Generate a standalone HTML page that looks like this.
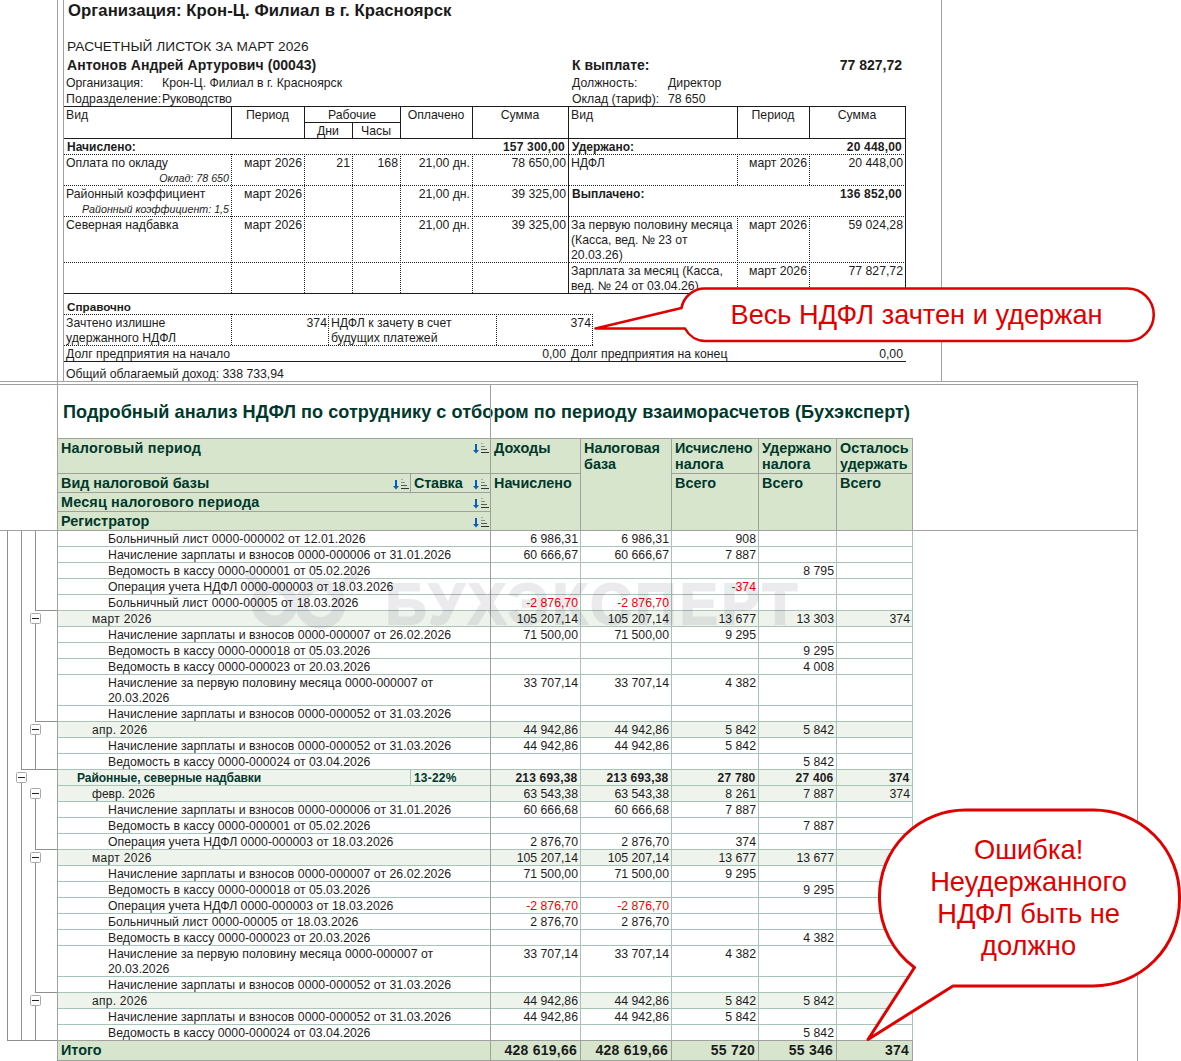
<!DOCTYPE html>
<html lang="ru"><head><meta charset="utf-8"><title>Расчетный листок и анализ НДФЛ</title><style>
html,body{margin:0;padding:0;background:#fff}
body{width:1181px;height:1061px;position:relative;overflow:hidden;font-family:"Liberation Sans",sans-serif;color:#1c1c1c}
.t{position:absolute;white-space:nowrap;margin:0;padding:0}
.l{position:absolute;display:block}
.hd{height:1px;background:repeating-linear-gradient(90deg,#222 0 1px,transparent 1px 2px)}
.vd{width:1px;background:repeating-linear-gradient(180deg,#222 0 1px,transparent 1px 2px)}
.bx{position:absolute;width:9px;height:9px;border:1px solid #a8a8a8;border-radius:1.5px;background:#fff}
.bx i{position:absolute;left:1px;top:4px;width:7px;height:1px;background:#222}
.wm{position:absolute;font-size:57px;line-height:70px;font-weight:bold;color:#2a2440;-webkit-text-stroke:2px #2a2440;opacity:.085;white-space:nowrap;letter-spacing:3.7px}
</style></head><body>
<div class="l" style="left:57px;top:0px;width:1px;height:1061px;background:#a0a0a0"></div>
<div class="l" style="left:63px;top:0px;width:1px;height:381px;background:#a0a0a0"></div>
<div class="l" style="left:941px;top:0px;width:1px;height:381px;background:#a0a0a0"></div>
<div class="l" style="left:0px;top:381px;width:1138px;height:1px;background:#a0a0a0"></div>
<div class="l" style="left:0px;top:384px;width:1138px;height:1px;background:#a0a0a0"></div>
<div class="l" style="left:1137px;top:381px;width:1px;height:680px;background:#a0a0a0"></div>
<div class="l" style="left:490px;top:384px;width:1px;height:677px;background:#a0a0a0"></div>
<div class="t" style="top:-0.50px;font-size:16.7px;line-height:22px;font-weight:bold;color:#1a1a1a;letter-spacing:0.056px;left:68px;">Организация: Крон-Ц. Филиал в г. Красноярск</div>
<div class="t" style="top:37.50px;font-size:13.7px;line-height:18px;letter-spacing:0.059px;left:67px;">РАСЧЕТНЫЙ ЛИСТОК ЗА МАРТ 2026</div>
<div class="t" style="top:55.50px;font-size:14px;line-height:19px;font-weight:bold;letter-spacing:0.059px;left:67px;">Антонов Андрей Артурович (00043)</div>
<div class="t" style="top:75.00px;font-size:12.25px;line-height:16px;left:66px;">Организация:</div>
<div class="t" style="top:75.00px;font-size:12.25px;line-height:16px;left:162px;">Крон-Ц. Филиал в г. Красноярск</div>
<div class="t" style="top:91.00px;font-size:12.25px;line-height:16px;letter-spacing:0.196px;left:66px;">Подразделение:</div>
<div class="t" style="top:91.00px;font-size:12.25px;line-height:16px;letter-spacing:-0.167px;left:162px;">Руководство</div>
<div class="t" style="top:55.50px;font-size:14px;line-height:19px;font-weight:bold;left:572px;">К выплате:</div>
<div class="t" style="top:55.50px;font-size:14px;line-height:19px;font-weight:bold;right:279px;text-align:right;">77 827,72</div>
<div class="t" style="top:75.00px;font-size:12.25px;line-height:16px;left:572px;">Должность:</div>
<div class="t" style="top:75.00px;font-size:12.25px;line-height:16px;left:668px;">Директор</div>
<div class="t" style="top:91.00px;font-size:12.25px;line-height:16px;left:572px;">Оклад (тариф):</div>
<div class="t" style="top:91.00px;font-size:12.25px;line-height:16px;left:668px;">78 650</div>
<div class="l" style="left:64px;top:106px;width:842px;height:1px;background:#1c1c1c"></div>
<div class="l" style="left:64px;top:138px;width:842px;height:1px;background:#1c1c1c"></div>
<div class="l" style="left:304px;top:122px;width:96px;height:1px;background:#1c1c1c"></div>
<div class="l" style="left:231px;top:106px;width:1px;height:32px;background:#1c1c1c"></div>
<div class="l" style="left:304px;top:106px;width:1px;height:32px;background:#1c1c1c"></div>
<div class="l" style="left:400px;top:106px;width:1px;height:32px;background:#1c1c1c"></div>
<div class="l" style="left:472px;top:106px;width:1px;height:32px;background:#1c1c1c"></div>
<div class="l" style="left:737px;top:106px;width:1px;height:32px;background:#1c1c1c"></div>
<div class="l" style="left:809px;top:106px;width:1px;height:32px;background:#1c1c1c"></div>
<div class="l" style="left:352px;top:122px;width:1px;height:16px;background:#1c1c1c"></div>
<div class="l" style="left:568px;top:106px;width:1px;height:187px;background:#1c1c1c"></div>
<div class="l" style="left:905px;top:106px;width:1px;height:187px;background:#1c1c1c"></div>
<div class="l" style="left:64px;top:293px;width:842px;height:1px;background:#1c1c1c"></div>
<div class="l" style="left:64px;top:361px;width:842px;height:1px;background:#1c1c1c"></div>
<div class="l hd" style="left:64px;top:154px;width:504px"></div>
<div class="l hd" style="left:569px;top:154px;width:336px"></div>
<div class="l hd" style="left:64px;top:185px;width:504px"></div>
<div class="l hd" style="left:569px;top:185px;width:336px"></div>
<div class="l hd" style="left:64px;top:216px;width:504px"></div>
<div class="l hd" style="left:569px;top:216px;width:336px"></div>
<div class="l hd" style="left:64px;top:262px;width:504px"></div>
<div class="l hd" style="left:569px;top:262px;width:336px"></div>
<div class="l vd" style="left:231px;top:154px;height:139px"></div>
<div class="l vd" style="left:304px;top:154px;height:139px"></div>
<div class="l vd" style="left:352px;top:154px;height:139px"></div>
<div class="l vd" style="left:400px;top:154px;height:139px"></div>
<div class="l vd" style="left:472px;top:154px;height:139px"></div>
<div class="l vd" style="left:737px;top:154px;height:31px"></div>
<div class="l vd" style="left:737px;top:216px;height:77px"></div>
<div class="l vd" style="left:809px;top:154px;height:31px"></div>
<div class="l vd" style="left:809px;top:216px;height:77px"></div>
<div class="l hd" style="left:64px;top:314px;width:529px"></div>
<div class="l hd" style="left:64px;top:345px;width:529px"></div>
<div class="l vd" style="left:231px;top:314px;height:32px"></div>
<div class="l vd" style="left:328px;top:314px;height:32px"></div>
<div class="l vd" style="left:496px;top:314px;height:32px"></div>
<div class="l vd" style="left:592px;top:314px;height:32px"></div>
<div class="t" style="top:107.00px;font-size:12.25px;line-height:16px;left:66px;">Вид</div>
<div class="t" style="top:107.00px;font-size:12.25px;line-height:16px;left:-32.5px;width:600px;text-align:center;">Период</div>
<div class="t" style="top:107.00px;font-size:12.25px;line-height:16px;left:52px;width:600px;text-align:center;">Рабочие</div>
<div class="t" style="top:123.00px;font-size:12.25px;line-height:16px;left:28px;width:600px;text-align:center;">Дни</div>
<div class="t" style="top:123.00px;font-size:12.25px;line-height:16px;left:76px;width:600px;text-align:center;">Часы</div>
<div class="t" style="top:107.00px;font-size:12.25px;line-height:16px;left:136px;width:600px;text-align:center;">Оплачено</div>
<div class="t" style="top:107.00px;font-size:12.25px;line-height:16px;left:220px;width:600px;text-align:center;">Сумма</div>
<div class="t" style="top:107.00px;font-size:12.25px;line-height:16px;left:571px;">Вид</div>
<div class="t" style="top:107.00px;font-size:12.25px;line-height:16px;left:473px;width:600px;text-align:center;">Период</div>
<div class="t" style="top:107.00px;font-size:12.25px;line-height:16px;left:557px;width:600px;text-align:center;">Сумма</div>
<div class="t" style="top:139.00px;font-size:12px;line-height:16px;font-weight:bold;left:67px;">Начислено:</div>
<div class="t" style="top:139.00px;font-size:12px;line-height:16px;font-weight:bold;letter-spacing:0.2px;right:616px;text-align:right;">157 300,00</div>
<div class="t" style="top:155.00px;font-size:12.25px;line-height:16px;left:66px;">Оплата по окладу</div>
<div class="t" style="top:171.00px;font-size:10.7px;line-height:14px;font-style:italic;right:952px;text-align:right;">Оклад: 78 650</div>
<div class="t" style="top:155.00px;font-size:12.25px;line-height:16px;right:879px;text-align:right;">март 2026</div>
<div class="t" style="top:155.00px;font-size:12.25px;line-height:16px;right:831px;text-align:right;">21</div>
<div class="t" style="top:155.00px;font-size:12.25px;line-height:16px;right:783px;text-align:right;">168</div>
<div class="t" style="top:155.00px;font-size:12.25px;line-height:16px;right:711px;text-align:right;">21,00 дн.</div>
<div class="t" style="top:155.00px;font-size:12.25px;line-height:16px;right:615px;text-align:right;">78 650,00</div>
<div class="t" style="top:186.00px;font-size:12.25px;line-height:16px;left:66px;">Районный коэффициент</div>
<div class="t" style="top:202.00px;font-size:10.7px;line-height:14px;font-style:italic;right:952px;text-align:right;">Районный коэффициент: 1,5</div>
<div class="t" style="top:186.00px;font-size:12.25px;line-height:16px;right:879px;text-align:right;">март 2026</div>
<div class="t" style="top:186.00px;font-size:12.25px;line-height:16px;right:711px;text-align:right;">21,00 дн.</div>
<div class="t" style="top:186.00px;font-size:12.25px;line-height:16px;right:615px;text-align:right;">39 325,00</div>
<div class="t" style="top:217.00px;font-size:12.25px;line-height:16px;left:66px;">Северная надбавка</div>
<div class="t" style="top:217.00px;font-size:12.25px;line-height:16px;right:879px;text-align:right;">март 2026</div>
<div class="t" style="top:217.00px;font-size:12.25px;line-height:16px;right:711px;text-align:right;">21,00 дн.</div>
<div class="t" style="top:217.00px;font-size:12.25px;line-height:16px;right:615px;text-align:right;">39 325,00</div>
<div class="t" style="top:139.00px;font-size:12px;line-height:16px;font-weight:bold;left:572px;">Удержано:</div>
<div class="t" style="top:139.00px;font-size:12px;line-height:16px;font-weight:bold;letter-spacing:0.2px;right:279px;text-align:right;">20 448,00</div>
<div class="t" style="top:155.00px;font-size:12.25px;line-height:16px;left:571px;">НДФЛ</div>
<div class="t" style="top:155.00px;font-size:12.25px;line-height:16px;right:374px;text-align:right;">март 2026</div>
<div class="t" style="top:155.00px;font-size:12.25px;line-height:16px;right:278px;text-align:right;">20 448,00</div>
<div class="t" style="top:186.00px;font-size:12px;line-height:16px;font-weight:bold;left:572px;">Выплачено:</div>
<div class="t" style="top:186.00px;font-size:12px;line-height:16px;font-weight:bold;letter-spacing:0.2px;right:279px;text-align:right;">136 852,00</div>
<div class="t" style="top:217.00px;font-size:12.25px;line-height:16px;left:571px;">За первую половину месяца</div>
<div class="t" style="top:232.00px;font-size:12.25px;line-height:16px;left:571px;">(Касса, вед. № 23 от</div>
<div class="t" style="top:247.00px;font-size:12.25px;line-height:16px;left:571px;">20.03.26)</div>
<div class="t" style="top:217.00px;font-size:12.25px;line-height:16px;right:374px;text-align:right;">март 2026</div>
<div class="t" style="top:217.00px;font-size:12.25px;line-height:16px;right:278px;text-align:right;">59 024,28</div>
<div class="t" style="top:263.00px;font-size:12.25px;line-height:16px;left:571px;">Зарплата за месяц (Касса,</div>
<div class="t" style="top:278.00px;font-size:12.25px;line-height:16px;left:571px;">вед. № 24 от 03.04.26)</div>
<div class="t" style="top:263.00px;font-size:12.25px;line-height:16px;right:374px;text-align:right;">март 2026</div>
<div class="t" style="top:263.00px;font-size:12.25px;line-height:16px;right:278px;text-align:right;">77 827,72</div>
<div class="t" style="top:298.50px;font-size:11.7px;line-height:16px;font-weight:bold;left:67px;">Справочно</div>
<div class="t" style="top:315.00px;font-size:12.25px;line-height:16px;left:66px;">Зачтено излишне</div>
<div class="t" style="top:330.00px;font-size:12.25px;line-height:16px;left:66px;">удержанного НДФЛ</div>
<div class="t" style="top:315.00px;font-size:12.25px;line-height:16px;right:854px;text-align:right;">374</div>
<div class="t" style="top:315.00px;font-size:12.25px;line-height:16px;left:331px;">НДФЛ к зачету в счет</div>
<div class="t" style="top:330.00px;font-size:12.25px;line-height:16px;left:331px;">будущих платежей</div>
<div class="t" style="top:315.00px;font-size:12.25px;line-height:16px;right:590px;text-align:right;">374</div>
<div class="t" style="top:346.00px;font-size:12.25px;line-height:16px;left:66px;">Долг предприятия на начало</div>
<div class="t" style="top:346.00px;font-size:12.25px;line-height:16px;right:615px;text-align:right;">0,00</div>
<div class="t" style="top:346.00px;font-size:12.25px;line-height:16px;left:571px;">Долг предприятия на конец</div>
<div class="t" style="top:346.00px;font-size:12.25px;line-height:16px;right:278px;text-align:right;">0,00</div>
<div class="t" style="top:366.00px;font-size:12.25px;line-height:16px;left:66px;">Общий облагаемый доход: 338 733,94</div>
<div class="t" style="top:400.00px;font-size:18.1px;line-height:24px;font-weight:bold;color:#00382c;letter-spacing:0.047px;left:63px;">Подробный анализ НДФЛ по сотруднику с отбором по периоду взаиморасчетов (Бухэксперт)</div>
<div class="l" style="left:58px;top:438px;width:855px;height:93px;background:#d6e5cc"></div>
<div class="l" style="left:57px;top:438px;width:856px;height:1px;background:#a0a0a0"></div>
<div class="l" style="left:0px;top:530px;width:1138px;height:1px;background:#a0a0a0"></div>
<div class="l" style="left:57px;top:473px;width:523px;height:1px;background:#a0a0a0"></div>
<div class="l" style="left:671px;top:473px;width:242px;height:1px;background:#a0a0a0"></div>
<div class="l" style="left:57px;top:492px;width:433px;height:1px;background:#a0a0a0"></div>
<div class="l" style="left:57px;top:511px;width:433px;height:1px;background:#a0a0a0"></div>
<div class="l" style="left:410px;top:473px;width:1px;height:19px;background:#a0a0a0"></div>
<div class="l" style="left:580px;top:438px;width:1px;height:92px;background:#a0a0a0"></div>
<div class="l" style="left:671px;top:438px;width:1px;height:92px;background:#a0a0a0"></div>
<div class="l" style="left:758px;top:438px;width:1px;height:92px;background:#a0a0a0"></div>
<div class="l" style="left:836px;top:438px;width:1px;height:92px;background:#a0a0a0"></div>
<div class="l" style="left:912px;top:438px;width:1px;height:92px;background:#a0a0a0"></div>
<div class="t" style="top:439.00px;font-size:14.4px;line-height:18px;font-weight:bold;color:#00382c;letter-spacing:0.211px;left:61px;">Налоговый период</div>
<div class="t" style="top:474.00px;font-size:14.4px;line-height:18px;font-weight:bold;color:#00382c;left:61px;">Вид налоговой базы</div>
<div class="t" style="top:474.00px;font-size:14.4px;line-height:18px;font-weight:bold;color:#00382c;letter-spacing:-0.172px;left:414px;">Ставка</div>
<div class="t" style="top:493.00px;font-size:14.4px;line-height:18px;font-weight:bold;color:#00382c;letter-spacing:0.176px;left:61px;">Месяц налогового периода</div>
<div class="t" style="top:512.00px;font-size:14.4px;line-height:18px;font-weight:bold;color:#00382c;left:61px;">Регистратор</div>
<div class="t" style="top:439.00px;font-size:14.4px;line-height:18px;font-weight:bold;color:#00382c;left:494px;">Доходы</div>
<div class="t" style="top:474.00px;font-size:14.4px;line-height:18px;font-weight:bold;color:#00382c;left:494px;">Начислено</div>
<div class="t" style="top:439.00px;font-size:14.4px;line-height:18px;font-weight:bold;color:#00382c;left:584px;">Налоговая</div>
<div class="t" style="top:455.00px;font-size:14.4px;line-height:18px;font-weight:bold;color:#00382c;left:584px;">база</div>
<div class="t" style="top:439.00px;font-size:14.4px;line-height:18px;font-weight:bold;color:#00382c;left:675px;">Исчислено</div>
<div class="t" style="top:455.00px;font-size:14.4px;line-height:18px;font-weight:bold;color:#00382c;left:675px;">налога</div>
<div class="t" style="top:439.00px;font-size:14.4px;line-height:18px;font-weight:bold;color:#00382c;left:762px;">Удержано</div>
<div class="t" style="top:455.00px;font-size:14.4px;line-height:18px;font-weight:bold;color:#00382c;left:762px;">налога</div>
<div class="t" style="top:439.00px;font-size:14.4px;line-height:18px;font-weight:bold;color:#00382c;left:840px;">Осталось</div>
<div class="t" style="top:455.00px;font-size:14.4px;line-height:18px;font-weight:bold;color:#00382c;left:840px;">удержать</div>
<div class="t" style="top:474.00px;font-size:14.4px;line-height:18px;font-weight:bold;color:#00382c;left:675px;">Всего</div>
<div class="t" style="top:474.00px;font-size:14.4px;line-height:18px;font-weight:bold;color:#00382c;left:762px;">Всего</div>
<div class="t" style="top:474.00px;font-size:14.4px;line-height:18px;font-weight:bold;color:#00382c;left:840px;">Всего</div>
<svg class="l" style="left:473px;top:443px" width="17" height="11" viewBox="0 0 17 11"><path d="M2 1h2v6h2l-3 3.4l-3-3.4h2z" fill="#0a5cb8"/><rect x="8" y="0" width="2" height="1" fill="#aaa"/><rect x="8" y="3" width="4" height="1" fill="#888"/><rect x="8" y="6" width="6" height="1" fill="#555"/><rect x="8" y="9" width="8" height="1" fill="#333"/></svg>
<svg class="l" style="left:473px;top:479px" width="17" height="11" viewBox="0 0 17 11"><path d="M2 1h2v6h2l-3 3.4l-3-3.4h2z" fill="#0a5cb8"/><rect x="8" y="0" width="2" height="1" fill="#aaa"/><rect x="8" y="3" width="4" height="1" fill="#888"/><rect x="8" y="6" width="6" height="1" fill="#555"/><rect x="8" y="9" width="8" height="1" fill="#333"/></svg>
<svg class="l" style="left:393px;top:479px" width="17" height="11" viewBox="0 0 17 11"><path d="M2 1h2v6h2l-3 3.4l-3-3.4h2z" fill="#0a5cb8"/><rect x="8" y="0" width="2" height="1" fill="#aaa"/><rect x="8" y="3" width="4" height="1" fill="#888"/><rect x="8" y="6" width="6" height="1" fill="#555"/><rect x="8" y="9" width="8" height="1" fill="#333"/></svg>
<svg class="l" style="left:473px;top:498px" width="17" height="11" viewBox="0 0 17 11"><path d="M2 1h2v6h2l-3 3.4l-3-3.4h2z" fill="#0a5cb8"/><rect x="8" y="0" width="2" height="1" fill="#aaa"/><rect x="8" y="3" width="4" height="1" fill="#888"/><rect x="8" y="6" width="6" height="1" fill="#555"/><rect x="8" y="9" width="8" height="1" fill="#333"/></svg>
<svg class="l" style="left:473px;top:517px" width="17" height="11" viewBox="0 0 17 11"><path d="M2 1h2v6h2l-3 3.4l-3-3.4h2z" fill="#0a5cb8"/><rect x="8" y="0" width="2" height="1" fill="#aaa"/><rect x="8" y="3" width="4" height="1" fill="#888"/><rect x="8" y="6" width="6" height="1" fill="#555"/><rect x="8" y="9" width="8" height="1" fill="#333"/></svg>
<div class="l" style="left:58px;top:611px;width:854px;height:15px;background:#eef3ec"></div>
<div class="l" style="left:58px;top:722px;width:854px;height:15px;background:#eef3ec"></div>
<div class="l" style="left:58px;top:770px;width:854px;height:15px;background:#eef3ec"></div>
<div class="l" style="left:58px;top:786px;width:854px;height:15px;background:#eef3ec"></div>
<div class="l" style="left:58px;top:850px;width:854px;height:15px;background:#eef3ec"></div>
<div class="l" style="left:58px;top:993px;width:854px;height:15px;background:#eef3ec"></div>
<div class="l" style="left:58px;top:1041px;width:854px;height:19px;background:#d6e5cc"></div>
<div class="l" style="left:58px;top:546px;width:855px;height:1px;background:#a8c3b8"></div>
<div class="l" style="left:58px;top:562px;width:855px;height:1px;background:#a8c3b8"></div>
<div class="l" style="left:58px;top:578px;width:855px;height:1px;background:#a8c3b8"></div>
<div class="l" style="left:58px;top:594px;width:855px;height:1px;background:#a8c3b8"></div>
<div class="l" style="left:58px;top:610px;width:855px;height:1px;background:#a8c3b8"></div>
<div class="l" style="left:58px;top:626px;width:855px;height:1px;background:#a8c3b8"></div>
<div class="l" style="left:58px;top:642px;width:855px;height:1px;background:#a8c3b8"></div>
<div class="l" style="left:58px;top:658px;width:855px;height:1px;background:#a8c3b8"></div>
<div class="l" style="left:58px;top:674px;width:855px;height:1px;background:#a8c3b8"></div>
<div class="l" style="left:58px;top:705px;width:855px;height:1px;background:#a8c3b8"></div>
<div class="l" style="left:58px;top:721px;width:855px;height:1px;background:#a8c3b8"></div>
<div class="l" style="left:58px;top:737px;width:855px;height:1px;background:#a8c3b8"></div>
<div class="l" style="left:58px;top:753px;width:855px;height:1px;background:#a8c3b8"></div>
<div class="l" style="left:58px;top:769px;width:855px;height:1px;background:#a8c3b8"></div>
<div class="l" style="left:58px;top:785px;width:855px;height:1px;background:#a8c3b8"></div>
<div class="l" style="left:58px;top:801px;width:855px;height:1px;background:#a8c3b8"></div>
<div class="l" style="left:58px;top:817px;width:855px;height:1px;background:#a8c3b8"></div>
<div class="l" style="left:58px;top:833px;width:855px;height:1px;background:#a8c3b8"></div>
<div class="l" style="left:58px;top:849px;width:855px;height:1px;background:#a8c3b8"></div>
<div class="l" style="left:58px;top:865px;width:855px;height:1px;background:#a8c3b8"></div>
<div class="l" style="left:58px;top:881px;width:855px;height:1px;background:#a8c3b8"></div>
<div class="l" style="left:58px;top:897px;width:855px;height:1px;background:#a8c3b8"></div>
<div class="l" style="left:58px;top:913px;width:855px;height:1px;background:#a8c3b8"></div>
<div class="l" style="left:58px;top:929px;width:855px;height:1px;background:#a8c3b8"></div>
<div class="l" style="left:58px;top:945px;width:855px;height:1px;background:#a8c3b8"></div>
<div class="l" style="left:58px;top:976px;width:855px;height:1px;background:#a8c3b8"></div>
<div class="l" style="left:58px;top:992px;width:855px;height:1px;background:#a8c3b8"></div>
<div class="l" style="left:58px;top:1008px;width:855px;height:1px;background:#a8c3b8"></div>
<div class="l" style="left:58px;top:1024px;width:855px;height:1px;background:#a8c3b8"></div>
<div class="l" style="left:580px;top:531px;width:1px;height:509px;background:#a8c3b8"></div>
<div class="l" style="left:671px;top:531px;width:1px;height:509px;background:#a8c3b8"></div>
<div class="l" style="left:758px;top:531px;width:1px;height:509px;background:#a8c3b8"></div>
<div class="l" style="left:836px;top:531px;width:1px;height:509px;background:#a8c3b8"></div>
<div class="l" style="left:912px;top:531px;width:1px;height:509px;background:#a8c3b8"></div>
<div class="l" style="left:410px;top:770px;width:1px;height:15px;background:#a8c3b8"></div>
<div class="l" style="left:57px;top:1040px;width:856px;height:1px;background:#a0a0a0"></div>
<div class="l" style="left:57px;top:1060px;width:856px;height:1px;background:#a0a0a0"></div>
<div class="l" style="left:580px;top:1040px;width:1px;height:21px;background:#a0a0a0"></div>
<div class="l" style="left:671px;top:1040px;width:1px;height:21px;background:#a0a0a0"></div>
<div class="l" style="left:758px;top:1040px;width:1px;height:21px;background:#a0a0a0"></div>
<div class="l" style="left:836px;top:1040px;width:1px;height:21px;background:#a0a0a0"></div>
<div class="l" style="left:912px;top:1040px;width:1px;height:21px;background:#a0a0a0"></div>
<div class="l" style="left:57px;top:384px;width:1px;height:677px;background:#a0a0a0"></div>
<div class="l" style="left:490px;top:384px;width:1px;height:677px;background:#a0a0a0"></div>
<div class="t" style="top:531.00px;font-size:12.25px;line-height:16px;letter-spacing:0.05px;left:108px;">Больничный лист 0000-000002 от 12.01.2026</div>
<div class="t" style="top:531.00px;font-size:12.25px;line-height:16px;right:603px;text-align:right;">6 986,31</div>
<div class="t" style="top:531.00px;font-size:12.25px;line-height:16px;right:512px;text-align:right;">6 986,31</div>
<div class="t" style="top:531.00px;font-size:12.25px;line-height:16px;right:425px;text-align:right;">908</div>
<div class="t" style="top:547.00px;font-size:12.25px;line-height:16px;letter-spacing:0.036px;left:108px;">Начисление зарплаты и взносов 0000-000006 от 31.01.2026</div>
<div class="t" style="top:547.00px;font-size:12.25px;line-height:16px;right:603px;text-align:right;">60 666,67</div>
<div class="t" style="top:547.00px;font-size:12.25px;line-height:16px;right:512px;text-align:right;">60 666,67</div>
<div class="t" style="top:547.00px;font-size:12.25px;line-height:16px;right:425px;text-align:right;">7 887</div>
<div class="t" style="top:563.00px;font-size:12.25px;line-height:16px;letter-spacing:0.009px;left:108px;">Ведомость в кассу 0000-000001 от 05.02.2026</div>
<div class="t" style="top:563.00px;font-size:12.25px;line-height:16px;right:347px;text-align:right;">8 795</div>
<div class="t" style="top:579.00px;font-size:12.25px;line-height:16px;letter-spacing:0.014px;left:108px;">Операция учета НДФЛ 0000-000003 от 18.03.2026</div>
<div class="t" style="top:579.00px;font-size:12.25px;line-height:16px;color:#f00000;right:425px;text-align:right;">-374</div>
<div class="t" style="top:595.00px;font-size:12.25px;line-height:16px;letter-spacing:0.041px;left:108px;">Больничный лист 0000-00005 от 18.03.2026</div>
<div class="t" style="top:595.00px;font-size:12.25px;line-height:16px;color:#f00000;right:603px;text-align:right;">-2 876,70</div>
<div class="t" style="top:595.00px;font-size:12.25px;line-height:16px;color:#f00000;right:512px;text-align:right;">-2 876,70</div>
<div class="t" style="top:611.00px;font-size:12px;line-height:16px;letter-spacing:0.33px;left:92px;">март 2026</div>
<div class="t" style="top:611.00px;font-size:12.25px;line-height:16px;right:603px;text-align:right;">105 207,14</div>
<div class="t" style="top:611.00px;font-size:12.25px;line-height:16px;right:512px;text-align:right;">105 207,14</div>
<div class="t" style="top:611.00px;font-size:12.25px;line-height:16px;right:425px;text-align:right;">13 677</div>
<div class="t" style="top:611.00px;font-size:12.25px;line-height:16px;right:347px;text-align:right;">13 303</div>
<div class="t" style="top:611.00px;font-size:12.25px;line-height:16px;right:271px;text-align:right;">374</div>
<div class="t" style="top:627.00px;font-size:12.25px;line-height:16px;letter-spacing:0.036px;left:108px;">Начисление зарплаты и взносов 0000-000007 от 26.02.2026</div>
<div class="t" style="top:627.00px;font-size:12.25px;line-height:16px;right:603px;text-align:right;">71 500,00</div>
<div class="t" style="top:627.00px;font-size:12.25px;line-height:16px;right:512px;text-align:right;">71 500,00</div>
<div class="t" style="top:627.00px;font-size:12.25px;line-height:16px;right:425px;text-align:right;">9 295</div>
<div class="t" style="top:643.00px;font-size:12.25px;line-height:16px;letter-spacing:0.009px;left:108px;">Ведомость в кассу 0000-000018 от 05.03.2026</div>
<div class="t" style="top:643.00px;font-size:12.25px;line-height:16px;right:347px;text-align:right;">9 295</div>
<div class="t" style="top:659.00px;font-size:12.25px;line-height:16px;letter-spacing:0.009px;left:108px;">Ведомость в кассу 0000-000023 от 20.03.2026</div>
<div class="t" style="top:659.00px;font-size:12.25px;line-height:16px;right:347px;text-align:right;">4 008</div>
<div class="t" style="top:675.00px;font-size:12.25px;line-height:16px;letter-spacing:0.033px;left:108px;">Начисление за первую половину месяца 0000-000007 от</div>
<div class="t" style="top:690.00px;font-size:12.25px;line-height:16px;left:108px;">20.03.2026</div>
<div class="t" style="top:675.00px;font-size:12.25px;line-height:16px;right:603px;text-align:right;">33 707,14</div>
<div class="t" style="top:675.00px;font-size:12.25px;line-height:16px;right:512px;text-align:right;">33 707,14</div>
<div class="t" style="top:675.00px;font-size:12.25px;line-height:16px;right:425px;text-align:right;">4 382</div>
<div class="t" style="top:706.00px;font-size:12.25px;line-height:16px;letter-spacing:0.036px;left:108px;">Начисление зарплаты и взносов 0000-000052 от 31.03.2026</div>
<div class="t" style="top:722.00px;font-size:12px;line-height:16px;letter-spacing:0.26px;left:92px;">апр. 2026</div>
<div class="t" style="top:722.00px;font-size:12.25px;line-height:16px;right:603px;text-align:right;">44 942,86</div>
<div class="t" style="top:722.00px;font-size:12.25px;line-height:16px;right:512px;text-align:right;">44 942,86</div>
<div class="t" style="top:722.00px;font-size:12.25px;line-height:16px;right:425px;text-align:right;">5 842</div>
<div class="t" style="top:722.00px;font-size:12.25px;line-height:16px;right:347px;text-align:right;">5 842</div>
<div class="t" style="top:738.00px;font-size:12.25px;line-height:16px;letter-spacing:0.036px;left:108px;">Начисление зарплаты и взносов 0000-000052 от 31.03.2026</div>
<div class="t" style="top:738.00px;font-size:12.25px;line-height:16px;right:603px;text-align:right;">44 942,86</div>
<div class="t" style="top:738.00px;font-size:12.25px;line-height:16px;right:512px;text-align:right;">44 942,86</div>
<div class="t" style="top:738.00px;font-size:12.25px;line-height:16px;right:425px;text-align:right;">5 842</div>
<div class="t" style="top:754.00px;font-size:12.25px;line-height:16px;letter-spacing:0.009px;left:108px;">Ведомость в кассу 0000-000024 от 03.04.2026</div>
<div class="t" style="top:754.00px;font-size:12.25px;line-height:16px;right:347px;text-align:right;">5 842</div>
<div class="t" style="top:770.00px;font-size:12px;line-height:16px;font-weight:bold;color:#00382c;letter-spacing:-0.061px;left:77px;">Районные, северные надбавки</div>
<div class="t" style="top:770.00px;font-size:12px;line-height:16px;font-weight:bold;color:#00382c;letter-spacing:0.2px;left:414px;">13-22%</div>
<div class="t" style="top:770.00px;font-size:12px;line-height:16px;font-weight:bold;letter-spacing:0.2px;right:603.5px;text-align:right;">213 693,38</div>
<div class="t" style="top:770.00px;font-size:12px;line-height:16px;font-weight:bold;letter-spacing:0.2px;right:512.5px;text-align:right;">213 693,38</div>
<div class="t" style="top:770.00px;font-size:12px;line-height:16px;font-weight:bold;letter-spacing:0.2px;right:425.5px;text-align:right;">27 780</div>
<div class="t" style="top:770.00px;font-size:12px;line-height:16px;font-weight:bold;letter-spacing:0.2px;right:347.5px;text-align:right;">27 406</div>
<div class="t" style="top:770.00px;font-size:12px;line-height:16px;font-weight:bold;letter-spacing:0.2px;right:271.5px;text-align:right;">374</div>
<div class="t" style="top:786.00px;font-size:12px;line-height:16px;letter-spacing:0.003px;left:92px;">февр. 2026</div>
<div class="t" style="top:786.00px;font-size:12.25px;line-height:16px;right:603px;text-align:right;">63 543,38</div>
<div class="t" style="top:786.00px;font-size:12.25px;line-height:16px;right:512px;text-align:right;">63 543,38</div>
<div class="t" style="top:786.00px;font-size:12.25px;line-height:16px;right:425px;text-align:right;">8 261</div>
<div class="t" style="top:786.00px;font-size:12.25px;line-height:16px;right:347px;text-align:right;">7 887</div>
<div class="t" style="top:786.00px;font-size:12.25px;line-height:16px;right:271px;text-align:right;">374</div>
<div class="t" style="top:802.00px;font-size:12.25px;line-height:16px;letter-spacing:0.036px;left:108px;">Начисление зарплаты и взносов 0000-000006 от 31.01.2026</div>
<div class="t" style="top:802.00px;font-size:12.25px;line-height:16px;right:603px;text-align:right;">60 666,68</div>
<div class="t" style="top:802.00px;font-size:12.25px;line-height:16px;right:512px;text-align:right;">60 666,68</div>
<div class="t" style="top:802.00px;font-size:12.25px;line-height:16px;right:425px;text-align:right;">7 887</div>
<div class="t" style="top:818.00px;font-size:12.25px;line-height:16px;letter-spacing:0.009px;left:108px;">Ведомость в кассу 0000-000001 от 05.02.2026</div>
<div class="t" style="top:818.00px;font-size:12.25px;line-height:16px;right:347px;text-align:right;">7 887</div>
<div class="t" style="top:834.00px;font-size:12.25px;line-height:16px;letter-spacing:0.014px;left:108px;">Операция учета НДФЛ 0000-000003 от 18.03.2026</div>
<div class="t" style="top:834.00px;font-size:12.25px;line-height:16px;right:603px;text-align:right;">2 876,70</div>
<div class="t" style="top:834.00px;font-size:12.25px;line-height:16px;right:512px;text-align:right;">2 876,70</div>
<div class="t" style="top:834.00px;font-size:12.25px;line-height:16px;right:425px;text-align:right;">374</div>
<div class="t" style="top:850.00px;font-size:12px;line-height:16px;letter-spacing:0.33px;left:92px;">март 2026</div>
<div class="t" style="top:850.00px;font-size:12.25px;line-height:16px;right:603px;text-align:right;">105 207,14</div>
<div class="t" style="top:850.00px;font-size:12.25px;line-height:16px;right:512px;text-align:right;">105 207,14</div>
<div class="t" style="top:850.00px;font-size:12.25px;line-height:16px;right:425px;text-align:right;">13 677</div>
<div class="t" style="top:850.00px;font-size:12.25px;line-height:16px;right:347px;text-align:right;">13 677</div>
<div class="t" style="top:866.00px;font-size:12.25px;line-height:16px;letter-spacing:0.036px;left:108px;">Начисление зарплаты и взносов 0000-000007 от 26.02.2026</div>
<div class="t" style="top:866.00px;font-size:12.25px;line-height:16px;right:603px;text-align:right;">71 500,00</div>
<div class="t" style="top:866.00px;font-size:12.25px;line-height:16px;right:512px;text-align:right;">71 500,00</div>
<div class="t" style="top:866.00px;font-size:12.25px;line-height:16px;right:425px;text-align:right;">9 295</div>
<div class="t" style="top:882.00px;font-size:12.25px;line-height:16px;letter-spacing:0.009px;left:108px;">Ведомость в кассу 0000-000018 от 05.03.2026</div>
<div class="t" style="top:882.00px;font-size:12.25px;line-height:16px;right:347px;text-align:right;">9 295</div>
<div class="t" style="top:898.00px;font-size:12.25px;line-height:16px;letter-spacing:0.014px;left:108px;">Операция учета НДФЛ 0000-000003 от 18.03.2026</div>
<div class="t" style="top:898.00px;font-size:12.25px;line-height:16px;color:#f00000;right:603px;text-align:right;">-2 876,70</div>
<div class="t" style="top:898.00px;font-size:12.25px;line-height:16px;color:#f00000;right:512px;text-align:right;">-2 876,70</div>
<div class="t" style="top:914.00px;font-size:12.25px;line-height:16px;letter-spacing:0.041px;left:108px;">Больничный лист 0000-00005 от 18.03.2026</div>
<div class="t" style="top:914.00px;font-size:12.25px;line-height:16px;right:603px;text-align:right;">2 876,70</div>
<div class="t" style="top:914.00px;font-size:12.25px;line-height:16px;right:512px;text-align:right;">2 876,70</div>
<div class="t" style="top:930.00px;font-size:12.25px;line-height:16px;letter-spacing:0.009px;left:108px;">Ведомость в кассу 0000-000023 от 20.03.2026</div>
<div class="t" style="top:930.00px;font-size:12.25px;line-height:16px;right:347px;text-align:right;">4 382</div>
<div class="t" style="top:946.00px;font-size:12.25px;line-height:16px;letter-spacing:0.033px;left:108px;">Начисление за первую половину месяца 0000-000007 от</div>
<div class="t" style="top:961.00px;font-size:12.25px;line-height:16px;left:108px;">20.03.2026</div>
<div class="t" style="top:946.00px;font-size:12.25px;line-height:16px;right:603px;text-align:right;">33 707,14</div>
<div class="t" style="top:946.00px;font-size:12.25px;line-height:16px;right:512px;text-align:right;">33 707,14</div>
<div class="t" style="top:946.00px;font-size:12.25px;line-height:16px;right:425px;text-align:right;">4 382</div>
<div class="t" style="top:977.00px;font-size:12.25px;line-height:16px;letter-spacing:0.036px;left:108px;">Начисление зарплаты и взносов 0000-000052 от 31.03.2026</div>
<div class="t" style="top:993.00px;font-size:12px;line-height:16px;letter-spacing:0.26px;left:92px;">апр. 2026</div>
<div class="t" style="top:993.00px;font-size:12.25px;line-height:16px;right:603px;text-align:right;">44 942,86</div>
<div class="t" style="top:993.00px;font-size:12.25px;line-height:16px;right:512px;text-align:right;">44 942,86</div>
<div class="t" style="top:993.00px;font-size:12.25px;line-height:16px;right:425px;text-align:right;">5 842</div>
<div class="t" style="top:993.00px;font-size:12.25px;line-height:16px;right:347px;text-align:right;">5 842</div>
<div class="t" style="top:1009.00px;font-size:12.25px;line-height:16px;letter-spacing:0.036px;left:108px;">Начисление зарплаты и взносов 0000-000052 от 31.03.2026</div>
<div class="t" style="top:1009.00px;font-size:12.25px;line-height:16px;right:603px;text-align:right;">44 942,86</div>
<div class="t" style="top:1009.00px;font-size:12.25px;line-height:16px;right:512px;text-align:right;">44 942,86</div>
<div class="t" style="top:1009.00px;font-size:12.25px;line-height:16px;right:425px;text-align:right;">5 842</div>
<div class="t" style="top:1025.00px;font-size:12.25px;line-height:16px;letter-spacing:0.009px;left:108px;">Ведомость в кассу 0000-000024 от 03.04.2026</div>
<div class="t" style="top:1025.00px;font-size:12.25px;line-height:16px;right:347px;text-align:right;">5 842</div>
<div class="t" style="top:1041.00px;font-size:14.4px;line-height:18px;font-weight:bold;color:#00382c;left:61px;">Итого</div>
<div class="t" style="top:1041.00px;font-size:14px;line-height:18px;font-weight:bold;letter-spacing:0.25px;right:604px;text-align:right;">428 619,66</div>
<div class="t" style="top:1041.00px;font-size:14px;line-height:18px;font-weight:bold;letter-spacing:0.25px;right:513px;text-align:right;">428 619,66</div>
<div class="t" style="top:1041.00px;font-size:14px;line-height:18px;font-weight:bold;letter-spacing:0.25px;right:426px;text-align:right;">55 720</div>
<div class="t" style="top:1041.00px;font-size:14px;line-height:18px;font-weight:bold;letter-spacing:0.25px;right:348px;text-align:right;">55 346</div>
<div class="t" style="top:1041.00px;font-size:14px;line-height:18px;font-weight:bold;letter-spacing:0.25px;right:272px;text-align:right;">374</div>
<div class="l" style="left:7px;top:531px;width:1px;height:510px;background:#8f8f8f"></div>
<div class="l" style="left:7px;top:1040px;width:50px;height:1px;background:#8f8f8f"></div>
<div class="l" style="left:21px;top:531px;width:1px;height:239px;background:#8f8f8f"></div>
<div class="l" style="left:21px;top:769px;width:36px;height:1px;background:#8f8f8f"></div>
<div class="l" style="left:21px;top:783px;width:1px;height:257px;background:#8f8f8f"></div>
<div class="l" style="left:35px;top:531px;width:1px;height:80px;background:#8f8f8f"></div>
<div class="l" style="left:35px;top:610px;width:22px;height:1px;background:#8f8f8f"></div>
<div class="l" style="left:35px;top:624px;width:1px;height:98px;background:#8f8f8f"></div>
<div class="l" style="left:35px;top:721px;width:22px;height:1px;background:#8f8f8f"></div>
<div class="l" style="left:35px;top:735px;width:1px;height:34px;background:#8f8f8f"></div>
<div class="l" style="left:35px;top:799px;width:1px;height:51px;background:#8f8f8f"></div>
<div class="l" style="left:35px;top:849px;width:22px;height:1px;background:#8f8f8f"></div>
<div class="l" style="left:35px;top:863px;width:1px;height:130px;background:#8f8f8f"></div>
<div class="l" style="left:35px;top:992px;width:22px;height:1px;background:#8f8f8f"></div>
<div class="l" style="left:35px;top:1006px;width:1px;height:34px;background:#8f8f8f"></div>
<div class="bx" style="left:16px;top:772px"><i></i></div>
<div class="bx" style="left:30px;top:613px"><i></i></div>
<div class="bx" style="left:30px;top:724px"><i></i></div>
<div class="bx" style="left:30px;top:788px"><i></i></div>
<div class="bx" style="left:30px;top:852px"><i></i></div>
<div class="bx" style="left:30px;top:995px"><i></i></div>
<div class="wm" style="left:385.6px;top:568.6px">БУХЭКСПЕРТ</div>
<svg class="l" style="left:240px;top:568px;opacity:.085" width="124" height="68" viewBox="240 568 124 68"><g fill="none" stroke="#2a2440"><circle cx="274.5" cy="604" r="17.2" stroke-width="11.5"/><circle cx="320.5" cy="604" r="19" stroke-width="12"/><path d="M249 574 L262 590 M355 575 L337 591" stroke-width="9" stroke-linecap="round"/></g></svg>
<svg class="l" style="left:580px;top:270px" width="601" height="100" viewBox="580 270 601 100"><path d="M705 288.5 H1127.5 A26.25 26.25 0 0 1 1127.5 341 H705 A23.5 23.5 0 0 1 685 328.5 L595.5 328.5 L681.5 308 A23.5 23.5 0 0 1 705 288.5 Z" fill="#fff" stroke="#e00000" stroke-width="2.6" stroke-linejoin="round"/></svg>
<div class="t" style="top:297.50px;font-size:27.2px;line-height:34px;color:#e00000;left:730.5px;">Весь НДФЛ зачтен и удержан</div>
<svg class="l" style="left:840px;top:790px" width="341" height="271" viewBox="840 790 341 271"><path d="M965.5 810 H1093.5 A86 86 0 0 1 1179.5 896 V900 A86 86 0 0 1 1093.5 986 H953 L868 1039.5 L914.5 967.5 A86 86 0 0 1 879.5 900 V896 A86 86 0 0 1 965.5 810 Z" fill="#fff" stroke="#e00000" stroke-width="3" stroke-linejoin="round"/></svg>
<div class="t" style="top:832.90px;font-size:27.3px;line-height:34px;color:#e00000;left:728.5999999999999px;width:600px;text-align:center;">Ошибка!</div>
<div class="t" style="top:864.90px;font-size:27.3px;line-height:34px;color:#e00000;left:728.5999999999999px;width:600px;text-align:center;">Неудержанного</div>
<div class="t" style="top:896.90px;font-size:27.3px;line-height:34px;color:#e00000;left:728.5999999999999px;width:600px;text-align:center;">НДФЛ быть не</div>
<div class="t" style="top:928.90px;font-size:27.3px;line-height:34px;color:#e00000;left:728.5999999999999px;width:600px;text-align:center;">должно</div>
</body></html>
